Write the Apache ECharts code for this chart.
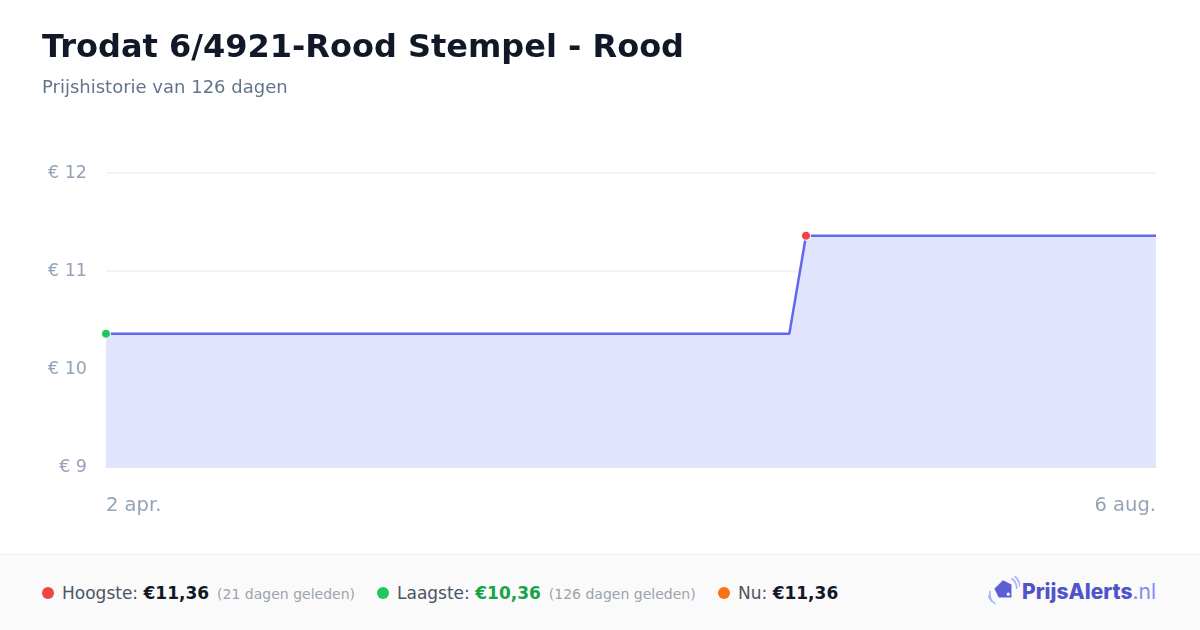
<!DOCTYPE html>
<html><head><meta charset="utf-8">
<script src="https://cdn.jsdelivr.net/npm/echarts@6/dist/echarts.min.js"></script>
<style>
html,body{margin:0;padding:0;width:1200px;height:630px;overflow:hidden;background:#fff;font-family:"DejaVu Sans",sans-serif;}
#chart{position:absolute;left:0;top:0;width:1200px;height:630px;}
#title{position:absolute;left:42px;top:27px;font-size:32px;font-weight:bold;color:#111827;white-space:nowrap;}
#sub{position:absolute;left:42px;top:76px;font-size:18px;color:#64748b;white-space:nowrap;}
#footer{position:absolute;left:0;top:554px;width:1200px;height:76px;background:#fafafa;border-top:1px solid #eeeeee;}
.it{position:absolute;top:28px;font-size:17px;color:#4b5563;white-space:nowrap;line-height:20px;}
.dot{display:inline-block;width:12px;height:12px;border-radius:6px;margin-right:8px;vertical-align:0px;}
.v{font-weight:bold;color:#111827;}
.ago{font-size:14px;color:#9ca3af;margin-left:8px;}
#logo{position:absolute;left:988px;top:21px;white-space:nowrap;font-family:Inter,"Noto Sans",sans-serif;font-weight:800;font-size:21px;color:#4f54c8;}
#logo .nl{font-weight:400;color:#818cf8;}
</style></head>
<body>
<div id="chart"></div>
<div id="title">Trodat 6/4921-Rood Stempel - Rood</div>
<div id="sub">Prijshistorie van 126 dagen</div>
<div id="footer">
  <div class="it" style="left:42px"><span class="dot" style="background:#ef4444"></span>Hoogste: <span class="v">€11,36</span><span class="ago">(21 dagen geleden)</span></div>
  <div class="it" style="left:377px"><span class="dot" style="background:#22c55e"></span>Laagste: <span class="v" style="color:#16a34a">€10,36</span><span class="ago">(126 dagen geleden)</span></div>
  <div class="it" style="left:718px"><span class="dot" style="background:#f97316"></span>Nu: <span class="v">€11,36</span></div>
  <div id="logo"><svg width="32" height="30" viewBox="0 0 30 28" style="vertical-align:-7px;margin-right:2px">
    <path d="M4 24 A14 14 0 0 1 2 14" stroke="#a5b4fc" stroke-width="1.6" fill="none"/>
    <path d="M7 26 A16 16 0 0 1 0 18" stroke="#a5b4fc" stroke-width="1.6" fill="none"/>
    <path d="M22 2 A12 12 0 0 1 27 12" stroke="#a5b4fc" stroke-width="1.6" fill="none"/>
    <path d="M25 0 A15 15 0 0 1 30 10" stroke="#a5b4fc" stroke-width="1.6" fill="none"/>
    <path d="M6 12 L14 4 L22 8 L22 20 L10 20 Z" fill="#5b5fd6"/>
    <circle cx="19" cy="17" r="1.5" fill="#fff"/>
  </svg>PrijsAlerts<span class="nl">.nl</span></div>
</div>
<script>
// Price history data (day offsets from 2 apr.)
const dayOffsets = [0, 82, 84, 126];
const prices = [10.36, 10.36, 11.36, 11.36];
const xTickLabels = ['2 apr.', '6 aug.'];
const yTicks = [9, 10, 11, 12];
const lowIndex = 0;
const highIndex = 2;

const chart = echarts.init(document.getElementById('chart'));
const seriesData = dayOffsets.map((d, i) => {
  const item = { value: [d, prices[i]] };
  if (i === lowIndex) item.itemStyle = { color: '#22c55e' };
  if (i === highIndex) item.itemStyle = { color: '#ef4444' };
  if (i !== lowIndex && i !== highIndex) item.symbol = 'none';
  return item;
});
chart.setOption({
  animation: false,
  grid: { left: 106, right: 44, top: 173, bottom: 163 },
  xAxis: {
    type: 'value', min: dayOffsets[0], max: dayOffsets[dayOffsets.length - 1],
    interval: dayOffsets[dayOffsets.length - 1],
    axisLine: { show: true, lineStyle: { color: '#e2e4ec', width: 1.5 } },
    axisTick: { show: false }, splitLine: { show: false },
    axisLabel: {
      color: '#94a3b8', fontSize: 19.5, margin: 29, fontFamily: 'DejaVu Sans',
      alignMinLabel: 'left', alignMaxLabel: 'right',
      formatter: v => v === 0 ? xTickLabels[0] : xTickLabels[1]
    }
  },
  yAxis: {
    type: 'value', min: yTicks[0], max: yTicks[yTicks.length - 1], interval: 1,
    axisLine: { show: false }, axisTick: { show: false },
    splitLine: { lineStyle: { color: '#f0f0f3', width: 1.5 } },
    axisLabel: { color: '#94a3b8', fontSize: 17.5, margin: 19, fontFamily: 'DejaVu Sans', formatter: v => '€ ' + v }
  },
  series: [{
    type: 'line', data: seriesData,
    symbol: 'circle', symbolSize: 9,
    lineStyle: { color: '#6366f1', width: 2.5 },
    itemStyle: { borderColor: '#fff', borderWidth: 1 },
    areaStyle: { color: '#e0e4fd', opacity: 1 },
    z: 3
  }]
});
</script>
</body></html>
